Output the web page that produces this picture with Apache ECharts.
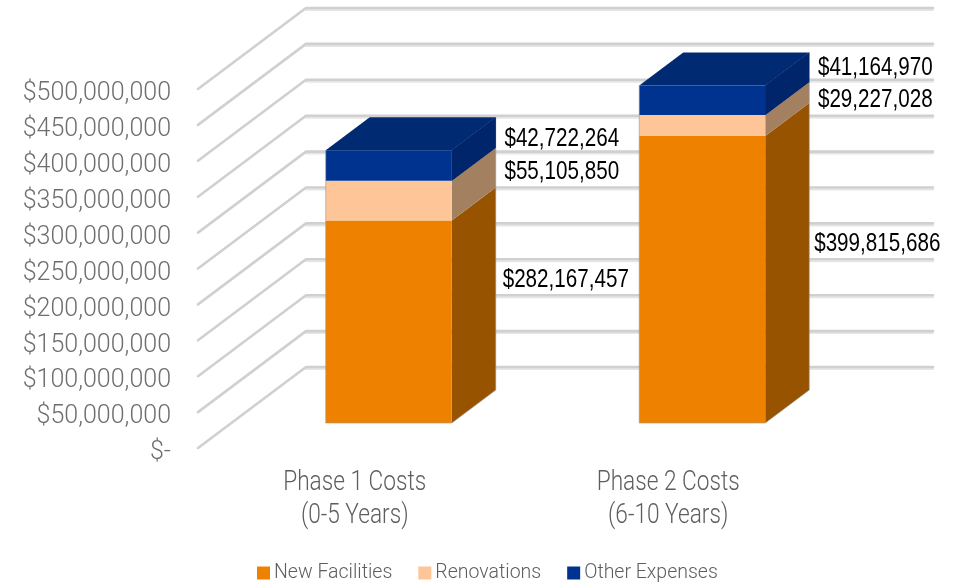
<!DOCTYPE html>
<html><head><meta charset="utf-8">
<style>html,body{margin:0;padding:0;background:#fff}#c{width:965px;height:583px}</style>
<script src="https://cdn.jsdelivr.net/npm/echarts@6/dist/echarts.min.js"></script>
</head><body><div id="c"></div>
<script>
const categories = ['Phase 1 Costs\n(0-5 Years)', 'Phase 2 Costs\n(6-10 Years)'];
const newFacilities = [282167457, 399815686];
const renovations = [55105850, 29227028];
const otherExpenses = [42722264, 41164970];
const yTicks = [0, 50000000, 100000000, 150000000, 200000000, 250000000, 300000000, 350000000, 400000000, 450000000, 500000000];

const COLORS = {
  fac: {front:'#EE8200', side:'#975300', top:'#B56300'},
  ren: {front:'#FDC598', side:'#A3805F', top:'#C99C78'},
  oth: {front:'#00338F', side:'#00256A', top:'#002A72'}
};
const SANS = '"Liberation Sans", Arial, sans-serif';
const LIGHT = 'Roboto, "Liberation Sans", Arial, sans-serif';
const BAR_SHIFT = [34, -25], DEPTH = [44, -33], WALL = [108, -81], BAR_RATIO = 0.402;
const EDGE = 'rgba(150,150,150,0.6)';

const chart = echarts.init(document.getElementById('c'), null, {renderer:'canvas'});

function wallItem(params, api) {
  const cs = params.coordSys;
  const y = api.coord([0, api.value(1)])[1];
  const pts = [[cs.x, y], [cs.x + WALL[0], y + WALL[1]], [cs.x + cs.width + WALL[0], y + WALL[1]]];
  const shade = [[cs.x + WALL[0], y + WALL[1] + 2], [cs.x + cs.width + WALL[0], y + WALL[1] + 2]];
  return {type:'group', silent:true, children:[
    {type:'polyline', shape:{points:shade}, style:{fill:null, stroke:'#E6E6E6', lineWidth:2, lineCap:'round'}},
    {type:'polyline', shape:{points:pts}, style:{fill:null, stroke:'#D0D0D0', lineWidth:2.6, lineCap:'round', lineJoin:'round'}}
  ]};
}

function categoryLabelItem(params, api) {
  const i = api.value(0);
  const p = api.coord([i, 0]);
  return {type:'text', x:p[0], y:p[1] + 52, scaleX:0.84, silent:true,
    style:{text:categories[i], fill:'#5E5E5E', font:'300 27px ' + LIGHT, lineHeight:33, align:'center', verticalAlign:'middle'}};
}

function barItem(c, isTop, labelNudge) {
  return function (params, api) {
    const i = api.value(0);
    const lo = api.coord([i, api.value(1)]);
    const hi = api.coord([i, api.value(2)]);
    const w = api.size([1, 0])[0] * BAR_RATIO;
    const l = lo[0] + BAR_SHIFT[0] - w / 2, r = l + w;
    const yb = lo[1] + BAR_SHIFT[1], yt = hi[1] + BAR_SHIFT[1];
    const dx = DEPTH[0], dy = DEPTH[1];
    const kids = [
      {type:'polygon', shape:{points:[[r,yt],[r+dx,yt+dy],[r+dx,yb+dy],[r,yb]]}, style:{fill:c.side}},
      {type:'rect', shape:{x:l, y:yt, width:w, height:yb-yt}, style:{fill:c.front}},
      {type:'polyline', shape:{points:[[l,yb],[l,yt]]}, style:{fill:null, stroke:EDGE, lineWidth:1}},
      {type:'polyline', shape:{points:[[r+dx,yb+dy],[r+dx,yt+dy]]}, style:{fill:null, stroke:EDGE, lineWidth:1}}
    ];
    if (api.value(1) === 0) {
      kids.push({type:'polyline', shape:{points:[[l,yb],[r,yb],[r+dx,yb+dy]]}, style:{fill:null, stroke:EDGE, lineWidth:1}});
    }
    if (isTop) {
      kids.push({type:'polygon', shape:{points:[[l,yt],[l+dx,yt+dy],[r+dx,yt+dy],[r,yt]]}, style:{fill:c.top}});
      kids.push({type:'polygon', shape:{points:[[r,yt],[r+dx,yt+dy],[r+dx,yb+dy],[r,yb]]}, style:{fill:c.side}});
    }
    const n = labelNudge[i];
    kids.push({type:'text', x:r + n[0], y:(yt + yb) / 2 + n[1], z2:50, scaleX:0.825,
      style:{text:'$' + (api.value(2) - api.value(1)).toLocaleString('en-US'), fill:'#000', font:'25px ' + SANS, align:'center', verticalAlign:'middle'}});
    return {type:'group', children:kids};
  };
}

function stack(vals, bases) {
  return vals.map((v, i) => [i, bases[i], bases[i] + v]);
}
const zero = categories.map(() => 0);
const base2 = newFacilities;
const base3 = newFacilities.map((v, i) => v + renovations[i]);

chart.setOption({
  animation:false,
  backgroundColor:'#fff',
  tooltip:{show:false},
  grid:{left:198, right:140, top:89, bottom:135, containLabel:false},
  legend:{
    data:['New Facilities','Renovations','Other Expenses'],
    left:252, top:558, icon:'rect', itemWidth:13, itemHeight:13, itemGap:26,
    selectedMode:false,
    textStyle:{color:'#5E5E5E', fontSize:19.5, fontWeight:300, fontFamily:LIGHT, padding:[0,0,0,-1]}
  },
  xAxis:{
    type:'category', data:categories,
    axisLine:{show:false}, axisTick:{show:false}, splitLine:{show:false},
    axisLabel:{show:false}
  },
  yAxis:{
    type:'value', min:0, max:500000000, interval:50000000,
    axisLine:{show:false}, axisTick:{show:false}, splitLine:{show:false},
    axisLabel:{color:'#6E6E6E', fontSize:25, fontWeight:300, fontFamily:LIGHT, margin:27, verticalAlign:'top', lineHeight:2, padding:[4,0,0,0],
      formatter:v => v === 0 ? '$-' : '$' + v.toLocaleString('en-US')}
  },
  series:[
    {type:'custom', name:'walls', silent:true, z:1, renderItem:wallItem,
      data:yTicks.map(t => [0, t]), encode:{x:0, y:1}},
    {type:'custom', name:'categoryLabels', silent:true, z:1, renderItem:categoryLabelItem,
      data:categories.map((c, i) => [i, 0]), encode:{x:0, y:1}},
    {type:'custom', name:'New Facilities', z:2, itemStyle:{color:COLORS.fac.front},
      renderItem:barItem(COLORS.fac, false, [[114,-42],[112,-35]]),
      data:stack(newFacilities, zero), encode:{x:0, y:[1,2]}},
    {type:'custom', name:'Renovations', z:3, itemStyle:{color:COLORS.ren.front},
      renderItem:barItem(COLORS.ren, false, [[110,-29],[110,-25]]),
      data:stack(renovations, base2), encode:{x:0, y:[1,2]}},
    {type:'custom', name:'Other Expenses', z:4, itemStyle:{color:COLORS.oth.front},
      renderItem:barItem(COLORS.oth, true, [[110,-26],[110,-32]]),
      data:stack(otherExpenses, base3), encode:{x:0, y:[1,2]}}
  ]
});
</script></body></html>
